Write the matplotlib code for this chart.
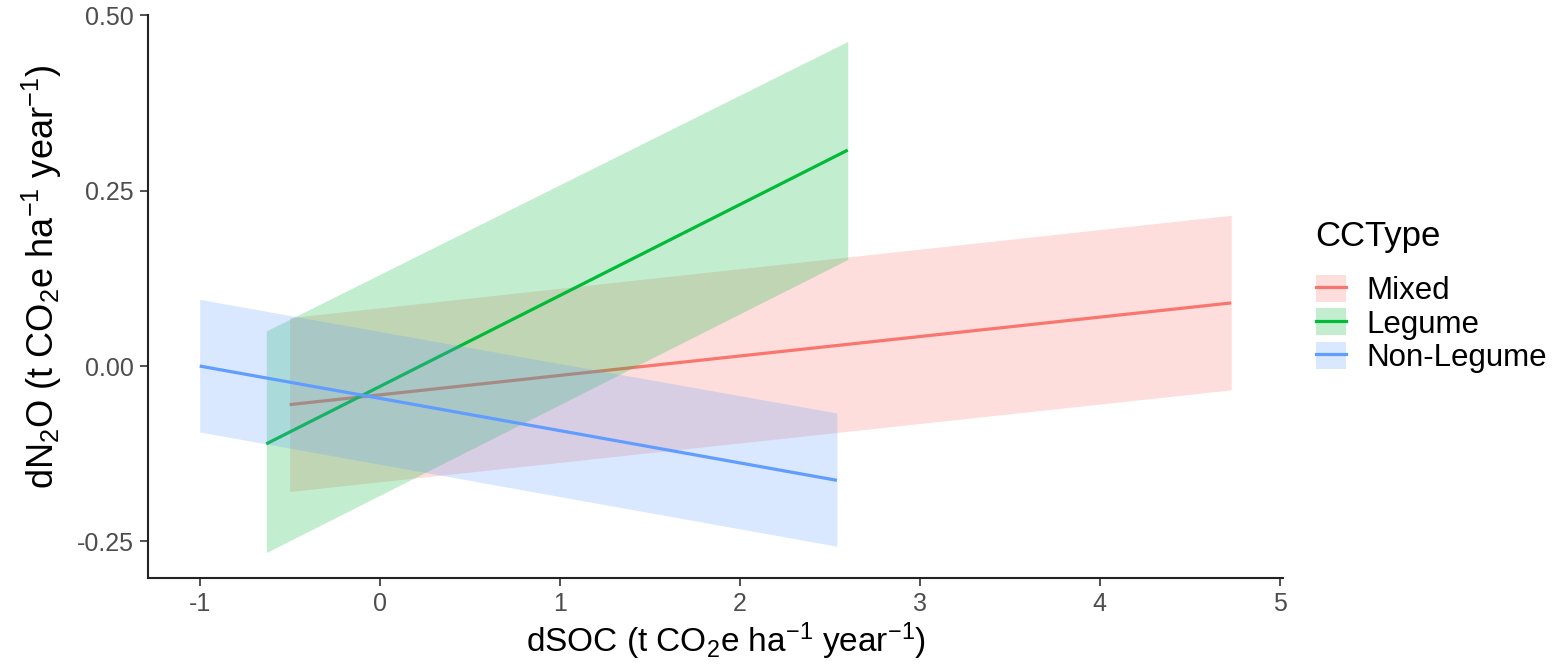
import matplotlib
matplotlib.use("Agg")
import matplotlib.pyplot as plt
from matplotlib.patches import Patch
from matplotlib.lines import Line2D

plt.rcParams['font.family'] = ['Liberation Sans', 'DejaVu Sans']
plt.rcParams['mathtext.fontset'] = 'custom'
plt.rcParams['mathtext.rm'] = 'Liberation Sans'
plt.rcParams['mathtext.it'] = 'Liberation Sans:italic'
plt.rcParams['mathtext.default'] = 'regular'

# ---- data ----
cc_types = ["Mixed", "Legume", "Non-Legume"]
colors = ["#F8766D", "#00BA38", "#619CFF"]
x_start = [-0.50, -0.63, -1.00]
x_end = [4.73, 2.60, 2.54]
fit_start = [-0.055, -0.111, 0.000]
fit_end = [0.090, 0.308, -0.163]
lo_start = [-0.179, -0.266, -0.094]
lo_end = [-0.034, 0.152, -0.257]
hi_start = [0.069, 0.050, 0.095]
hi_end = [0.215, 0.463, -0.067]

x_ticks = [-1, 0, 1, 2, 3, 4, 5]
x_ticklabels = ["-1", "0", "1", "2", "3", "4", "5"]
y_ticks = [-0.25, 0.00, 0.25, 0.50]
y_ticklabels = ["-0.25", "0.00", "0.25", "0.50"]

fig = plt.figure(figsize=(15.58, 6.68), dpi=100)
ax = fig.add_axes([0.095, 0.134, 0.7285, 0.8435])

alpha = 0.24
lw = 2.3
z = 1
for i, t in enumerate(cc_types):
    xs = [x_start[i], x_end[i]]
    ax.fill_between(xs, [lo_start[i], lo_end[i]], [hi_start[i], hi_end[i]],
                    color=colors[i], alpha=alpha, linewidth=0, zorder=z)
    ax.plot(xs, [fit_start[i], fit_end[i]], color=colors[i], lw=lw,
            solid_capstyle='butt', zorder=z + 1)
    z += 2

ax.set_xlim(-1.287, 5.018)
ax.set_ylim(-0.303, 0.5006)
ax.set_xticks(x_ticks)
ax.set_xticklabels(x_ticklabels)
ax.set_yticks(y_ticks)
ax.set_yticklabels(y_ticklabels)

for s in ['top', 'right']:
    ax.spines[s].set_visible(False)
for s in ['left', 'bottom']:
    ax.spines[s].set_linewidth(1.5)
    ax.spines[s].set_color('#222222')
ax.tick_params(axis='both', length=6, width=1.2, color='#333333',
               labelsize=18, labelcolor='#4D4D4D', pad=4)

ax.set_xlabel(r'dSOC (t CO$_2$e ha$^{-1}$ year$^{-1}$)', fontsize=24)
ax.set_ylabel(r'dN$_2$O (t CO$_2$e ha$^{-1}$ year$^{-1}$)', fontsize=26)
ax.xaxis.set_label_coords(0.509, -0.075)
ax.yaxis.set_label_coords(-0.074, 0.535)

handles = []
for i, t in enumerate(cc_types):
    p = Patch(facecolor=colors[i], alpha=alpha, edgecolor='none')
    l = Line2D([0], [0], color=colors[i], lw=lw)
    handles.append((p, l))

fig.text(0.8441, 1 - 246 / 668, 'CCType', fontsize=25, va='baseline', ha='left')
leg = fig.legend(handles, cc_types, loc='upper left', bbox_to_anchor=(0.8447, 1 - 275 / 668),
                 frameon=False, fontsize=22.5,
                 handlelength=0.96, handleheight=0.95, labelspacing=0.07,
                 handletextpad=0.65, borderaxespad=0, borderpad=0)

fig.savefig('out.png', dpi=100)
